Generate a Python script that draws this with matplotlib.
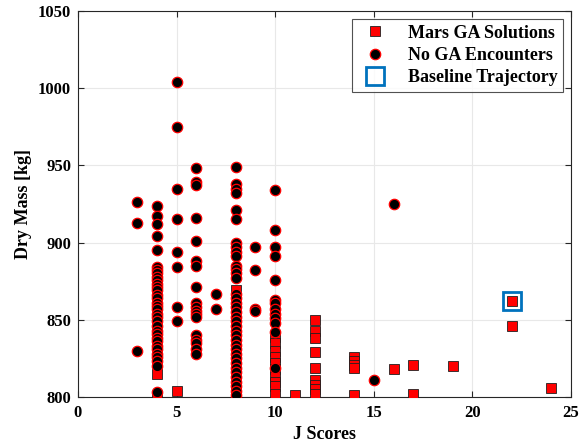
import matplotlib
matplotlib.use("Agg")
import matplotlib.pyplot as plt

plt.rcParams['font.family'] = ['Liberation Serif', 'DejaVu Serif']
plt.rcParams['font.weight'] = 'bold'

# Mars GA solutions (red squares)
ga_j = [4, 4, 5, 8, 8, 8,
        10, 10, 10, 10, 10, 10, 10, 10, 10, 10,
        11,
        12, 12, 12, 12, 12, 12, 12, 12, 12,
        14, 14, 14, 14, 14,
        16, 17, 17, 19, 22, 22, 24]
ga_mass = [815, 800, 804, 869, 803, 800,
           839, 835, 830, 826, 822, 818, 813, 810, 807, 802,
           801,
           850, 843, 838, 829, 819, 811, 808, 805, 802,
           826, 823, 821, 819, 801,
           818, 821, 802, 820, 862, 846, 806]

# No GA encounters (black circles)
noga_j = ([3, 3, 3]
          + [4] * 33
          + [5] * 8
          + [6] * 18
          + [7, 7]
          + [8] * 37
          + [9, 9, 9, 9]
          + [10] * 13
          + [15, 16])
noga_mass = ([926, 913, 830]
             + [924, 917, 912, 904, 895, 884, 882, 880, 878, 876, 873, 871, 869,
                866, 864, 861, 859, 857, 854, 852, 849, 846, 843, 841, 838, 836,
                833, 831, 828, 826, 823, 820, 803]
             + [1004, 975, 935, 915, 894, 884, 858, 849]
             + [948, 939, 937, 916, 901, 888, 885, 871, 861, 858, 856, 854, 852,
                840, 837, 835, 831, 828]
             + [867, 857]
             + [949, 938, 935, 932, 921, 915, 900, 897, 894, 891, 885, 883, 880,
                877, 867, 864, 861, 858, 855, 852, 849, 846, 843, 840, 837, 834,
                831, 828, 825, 822, 819, 816, 813, 810, 807, 804, 801]
             + [897, 882, 857, 856]
             + [934, 908, 897, 891, 876, 863, 861, 857, 854, 851, 848, 842, 819]
             + [811, 925])

# Baseline trajectory
base_j = [22]
base_mass = [862]

fig = plt.figure(figsize=(5.86, 4.44), dpi=100)
ax = fig.add_axes([78 / 586, 1 - 397 / 444, (571 - 78) / 586, (397 - 11) / 444])

ax.plot(ga_j, ga_mass, 's', color='red', markeredgecolor='#202020',
        markeredgewidth=0.6, markersize=6.5, label='Mars GA Solutions', zorder=3)
ax.plot(noga_j, noga_mass, 'o', color='black', markeredgecolor='red',
        markeredgewidth=0.9, markersize=7.5, label='No GA Encounters', zorder=4)
ax.plot(base_j, base_mass, 's', markerfacecolor='none', markeredgecolor='#0072BD',
        markeredgewidth=2, markersize=13, label='Baseline Trajectory', zorder=5)

ax.set_xlim(0, 25)
ax.set_ylim(800, 1050)
ax.set_xticks([0, 5, 10, 15, 20, 25])
ax.set_yticks([800, 850, 900, 950, 1000, 1050])
ax.grid(True, color='#e8e8e8', linewidth=0.8)
ax.set_axisbelow(True)
ax.tick_params(direction='in', top=True, right=True, labelsize=12, length=4,
               color='#262626')
ax.tick_params(axis='x', pad=6)
ax.tick_params(axis='y', pad=5)
for lab in ax.get_xticklabels() + ax.get_yticklabels():
    lab.set_fontweight('bold')
for s in ax.spines.values():
    s.set_color('#262626')
    s.set_linewidth(0.8)

ax.set_xlabel('J Scores', fontsize=13, fontweight='bold', labelpad=3)
ax.set_ylabel('Dry Mass [kg]', fontsize=13, fontweight='bold', labelpad=4)

leg = ax.legend(loc='upper right', fontsize=13, frameon=True, fancybox=False,
                edgecolor='#262626', borderaxespad=0.45, handletextpad=0.8,
                borderpad=0.3, labelspacing=0.3, markerscale=1.0)
leg.get_frame().set_linewidth(0.8)
for t in leg.get_texts():
    t.set_fontweight('bold')

fig.savefig('out.png', dpi=100)
